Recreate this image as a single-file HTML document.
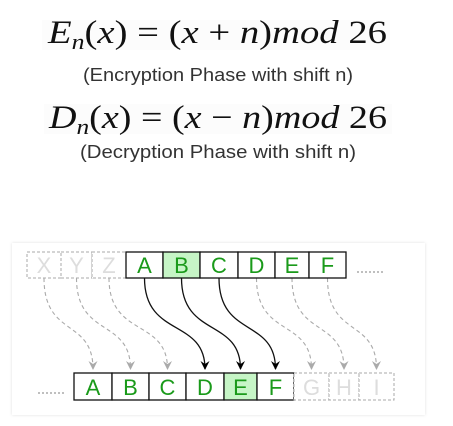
<!DOCTYPE html>
<html><head><meta charset="utf-8"><style>
html,body{margin:0;padding:0;background:#fff;width:453px;height:426px;overflow:hidden}
svg{display:block}
</style></head><body>
<svg id="s" width="453" height="426" viewBox="0 0 453 426" xmlns="http://www.w3.org/2000/svg">
<defs>
<marker id="ab" markerWidth="9" markerHeight="9" refX="8" refY="4.5" orient="auto" markerUnits="userSpaceOnUse" viewBox="0 0 9 9"><path d="M0,0 L9,4.5 L0,9 L3,4.5 Z" fill="#000"/></marker>
<marker id="ag" markerWidth="9" markerHeight="9" refX="8" refY="4.5" orient="auto" markerUnits="userSpaceOnUse" viewBox="0 0 9 9"><path d="M0,0 L9,4.5 L0,9 L3,4.5 Z" fill="#aaa"/></marker>
<filter id="sh" x="-5%" y="-5%" width="110%" height="110%"><feDropShadow dx="0" dy="0" stdDeviation="1.5" flood-color="#000" flood-opacity="0.12"/></filter>
</defs>
<rect x="42" y="20" width="348" height="30" fill="#fcfcfc"/>
<text x="48" y="43" font-family="Liberation Serif, serif" font-style="italic" font-size="33" textLength="339" lengthAdjust="spacingAndGlyphs" fill="#111">E<tspan font-size="22" dy="6">n</tspan><tspan dy="-6" font-style="normal">(</tspan>x<tspan font-style="normal">) = (</tspan>x<tspan font-style="normal"> + </tspan>n<tspan font-style="normal">)</tspan>mod<tspan font-style="normal"> 26</tspan></text>
<text x="83" y="81" font-family="Liberation Sans, sans-serif" font-size="18" fill="#333" textLength="270" lengthAdjust="spacingAndGlyphs">(Encryption Phase with shift n)</text>
<rect x="44" y="104" width="348" height="30" fill="#fcfcfc"/>
<text x="49" y="128" font-family="Liberation Serif, serif" font-style="italic" font-size="33" textLength="338" lengthAdjust="spacingAndGlyphs" fill="#111">D<tspan font-size="22" dy="6">n</tspan><tspan dy="-6" font-style="normal">(</tspan>x<tspan font-style="normal">) = (</tspan>x<tspan font-style="normal"> − </tspan>n<tspan font-style="normal">)</tspan>mod<tspan font-style="normal"> 26</tspan></text>
<text x="80" y="158" font-family="Liberation Sans, sans-serif" font-size="18" fill="#333" textLength="276" lengthAdjust="spacingAndGlyphs">(Decryption Phase with shift n)</text>
<rect x="12" y="243" width="413" height="172" fill="#fff" filter="url(#sh)"/>
<g id="g"></g>
</svg>
<script>
const topLetters=["X","Y","Z","A","B","C","D","E","F"];
const topEdges=[27,61,92,126,163,200,238,275,309,346];
const botLetters=["A","B","C","D","E","F","G","H","I"];
const botEdges=[74,112,149,186,224,257,294,329,359,394];
const ghostTop=[true,true,true,false,false,false,false,false,false];
const ghostBot=[false,false,false,false,false,false,true,true,true];
const hlTop=[false,false,false,false,true,false,false,false,false];
const hlBot=[false,false,false,false,true,false,false,false,false];
const solid=[false,false,false,true,true,true,false,false,false];
const NS="http://www.w3.org/2000/svg";
const g=document.getElementById('g');
function mk(t,a){const e=document.createElementNS(NS,t);for(const k in a)e.setAttribute(k,a[k]);g.appendChild(e);return e;}
function row(letters,edges,ghost,hl,y0,y1,pre){
  letters.forEach((L,i)=>{
    const x0=edges[i],x1=edges[i+1];
    const r=mk('rect',{x:x0,y:y0,width:x1-x0,height:y1-y0,fill:hl[i]?'#c6f5c6':'#fff',stroke:ghost[i]?'#aaa':'#111','stroke-width':ghost[i]?1:1.3,'stroke-dasharray':ghost[i]?'3,2':'none'});
    
    
    const t=mk('text',{x:(x0+x1)/2,y:y1-5,'text-anchor':'middle','font-family':'Liberation Sans, sans-serif','font-size':22,fill:ghost[i]?'#ddd':'#1a9a1a'});
    t.textContent=L;
    
    
  });
}
const TY0=252,TY1=278,BY0=373,BY1=400;
topLetters.forEach((L,i)=>{
  const sx=(topEdges[i]+topEdges[i+1])/2;
  const ex=(botEdges[i]+botEdges[i+1])/2;
  const ey=369,sy=TY1;
  const p=mk('path',{d:`M${sx},${sy} C${sx},${sy+60} ${ex},${sy+40} ${ex},${ey}`,fill:'none',stroke:solid[i]?'#111':'#aaa','stroke-width':solid[i]?1.3:1.1,'stroke-dasharray':solid[i]?'none':'4,3','marker-end':solid[i]?'url(#ab)':'url(#ag)'});
  
  
});
row(topLetters,topEdges,ghostTop,hlTop,TY0,TY1,'plain');
row(botLetters,botEdges,ghostBot,hlBot,BY0,BY1,'cipher');
const d1=mk('line',{x1:357,y1:272,x2:385,y2:272,stroke:'#aaa','stroke-width':1.5,'stroke-dasharray':'2,2'});


const d2=mk('line',{x1:38,y1:393,x2:66,y2:393,stroke:'#aaa','stroke-width':1.5,'stroke-dasharray':'2,2'});


</script>
</body></html>
